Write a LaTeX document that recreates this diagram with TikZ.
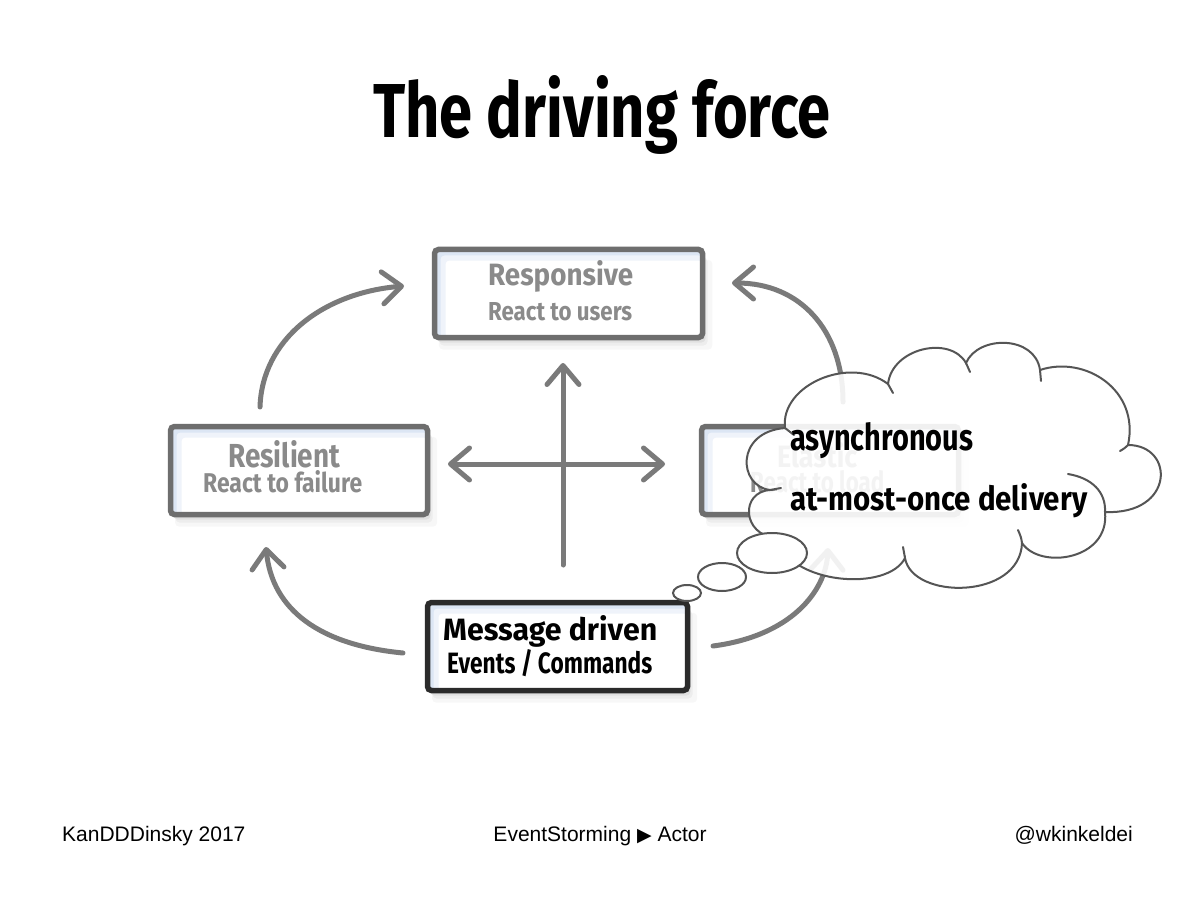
\documentclass[tikz,border=0pt]{standalone}
\usepackage{fontspec}
\usepackage{graphicx}
\setmainfont{Fira Sans}
\newfontfamily\footfont{Liberation Sans}
\newfontfamily\symbolfont{DejaVu Sans}
\usetikzlibrary{arrows.meta,shadows,shapes.geometric}

\definecolor{boxgrey}{HTML}{6E6E6E}
\definecolor{darkframe}{HTML}{2B2B2B}
\definecolor{txtgrey}{HTML}{8A8A8A}
\definecolor{arrowgrey}{HTML}{7A7A7A}
\definecolor{tintblue}{HTML}{DCE6F4}
\definecolor{cloudline}{HTML}{555555}

% bold text squeezed into a given width and height
\newcommand{\fitbf}[3]{\resizebox{#1}{#2}{\bfseries #3}}

\begin{document}
\begin{tikzpicture}[x=1pt,y=-1pt,
  panel/.style={rectangle, draw=#1, line width=5.5pt, rounded corners=4pt,
    minimum height=88pt, inner sep=0pt, fill=white,
    general shadow={fill=black, opacity=0.03, shadow xshift=7pt, shadow yshift=-11pt, shadow scale=1.02},
    general shadow={fill=black, opacity=0.04, shadow xshift=5pt, shadow yshift=-8pt},
    general shadow={fill=black, opacity=0.05, shadow xshift=3pt, shadow yshift=-5pt},
    path picture={
      \fill[tintblue] (path picture bounding box.north west) rectangle (path picture bounding box.south east);
      \fill[white, opacity=.55] ([shift={(6pt,-6pt)}]path picture bounding box.north west) rectangle (path picture bounding box.south east);
      \fill[white] ([shift={(11pt,-11pt)}]path picture bounding box.north west) rectangle (path picture bounding box.south east);
    }},
  panel/.default=boxgrey,
  label/.style={inner sep=0pt, anchor=base west, text=#1},
  label/.default=txtgrey,
  flow/.style={draw=arrowgrey, line width=5pt, line cap=round,
    -{Straight Barb[length=19pt, width=32pt, line cap=round, line join=round]}},
  bubble/.style={ellipse, draw=cloudline, line width=2pt, fill=white, inner sep=0pt},
  cloudedge/.style={draw=cloudline, line width=2pt, line cap=round},
  foot/.style={inner sep=0pt, font=\footfont\fontsize{21}{25}\selectfont}
]
\useasboundingbox (0,0) rectangle (1201,901);
\fill[white] (0,0) rectangle (1201,901);

% title
\node[label=black] (title) at (373,138) {\fitbf{457pt}{62pt}{The driving force}};

% the four properties
\node[panel, minimum width=268pt] (resp)  at (568.5,293.5) {};
\node[panel, minimum width=257pt] (resil) at (299,470.5) {};
\node[panel, minimum width=257pt] (elast) at (830,470.5) {};
\node[panel=darkframe, minimum width=260pt] (msg) at (557.5,646.5) {};

\node[label] (respA)  at (488,285) {\fitbf{145pt}{25pt}{Responsive}};
\node[label] (respB)  at (488,320) {\fitbf{144pt}{18pt}{React to users}};
\node[label] (resilA) at (228,467) {\fitbf{112pt}{27pt}{Resilient}};
\node[label] (resilB) at (203,492) {\fitbf{159pt}{22pt}{React to failure}};
\node[label] (elastA) at (777,467) {\fitbf{80pt}{25pt}{Elastic}};
\node[label] (elastB) at (750,492) {\fitbf{134pt}{22pt}{React to load}};
\node[label=black] (msgA) at (443,640) {\fitbf{214pt}{25pt}{Message driven}};
\node[label=black] (msgB) at (447,673) {\fitbf{205pt}{24pt}{Events / Commands}};

% curved arrows around the panels
\coordinate (tlS) at (260,407);  \coordinate (tlE) at (404,286);
\coordinate (trS) at (843,402);  \coordinate (trE) at (732,283);
\coordinate (blS) at (403,653);  \coordinate (blE) at (266,547);
\coordinate (brS) at (713,646);  \coordinate (brE) at (828,548);
\draw[flow] (tlS) .. controls (262,340) and (322,293) .. (tlE);
\draw[flow] (trS) .. controls (843,330) and (800,283) .. (trE);
\draw[flow] (blS) .. controls (320,645) and (272,610) .. (blE);
\draw[flow] (brS) .. controls (790,636) and (826,592) .. (brE);

% the cross in the middle
\coordinate (vS) at (563,565); \coordinate (vE) at (563,363);
\coordinate (hL) at (448,464); \coordinate (hR) at (665,464);
\draw[flow] (vS) -- (vE);
\draw[flow, {Straight Barb[length=19pt, width=32pt, line cap=round, line join=round]}-{Straight Barb[length=19pt, width=32pt, line cap=round, line join=round]}] (hL) -- (hR);

% thought cloud, lightly see-through
\path[cloudedge, fill=white, fill opacity=0.9]
  (770,490)
  .. controls (738,486) and (735,432) .. (785,428)
  .. controls (780,385) and (850,355) .. (888,384)
  .. controls (892,348) and (950,335) .. (966,363)
  .. controls (978,335) and (1035,335) .. (1040,370)
  .. controls (1085,355) and (1140,390) .. (1128,445)
  .. controls (1175,445) and (1175,515) .. (1105,512)
  .. controls (1110,560) and (1040,570) .. (1022,543)
  .. controls (1020,600) and (912,600) .. (905,558)
  .. controls (888,592) and (790,585) .. (776,538)
  .. controls (742,535) and (740,492) .. (770,490)
  -- cycle;
% small inner arcs of the puffs
\draw[cloudedge] (785,428) .. controls (789,432) .. (794,435);
\draw[cloudedge] (888,384) .. controls (890,388) .. (893,393);
\draw[cloudedge] (966,363) .. controls (968,367) .. (970,372);
\draw[cloudedge] (1040,370) .. controls (1041,375) .. (1041,381);
\draw[cloudedge] (1128,445) .. controls (1125,448) .. (1120,451);
\draw[cloudedge] (1068,474) .. controls (1092,478) and (1106,492) .. (1105,512);
\draw[cloudedge] (1022,543) .. controls (1021,537) .. (1018,530);
\draw[cloudedge] (905,558) .. controls (904,553) .. (903,547);
\draw[cloudedge] (770,490) .. controls (775,489) .. (781,488);

\node[label=black] (thinkA) at (790,450) {\fitbf{183pt}{28pt}{asynchronous}};
\node[label=black] (thinkB) at (790,510) {\fitbf{297pt}{27pt}{at-most-once delivery}};

% trail of bubbles
\node[bubble, minimum width=70pt, minimum height=40pt] (bubA) at (772,553) {};
\node[bubble, minimum width=48pt, minimum height=28pt] (bubB) at (722,577) {};
\node[bubble, minimum width=28pt, minimum height=16pt] (bubC) at (687,593) {};

% footer
\node[foot, anchor=base west] (footL) at (62,841) {KanDDDinsky 2017};
\node[foot, anchor=base] (footC) at (600,841) {EventStorming {\symbolfont\fontsize{19}{22}\selectfont ▶} Actor};
\node[foot, anchor=base east] (footR) at (1133,841) {@wkinkeldei};
\end{tikzpicture}
\end{document}
